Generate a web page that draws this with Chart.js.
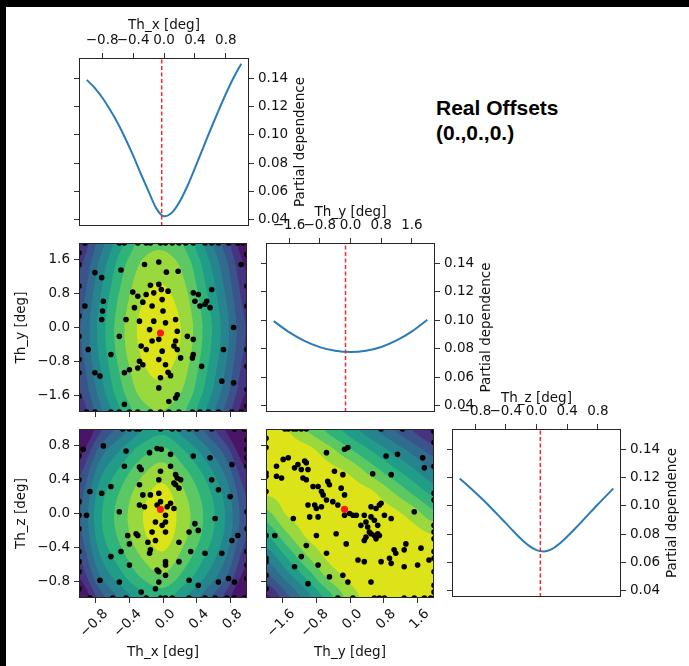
<!DOCTYPE html>
<html>
<head>
<meta charset="utf-8">
<script src="https://cdn.jsdelivr.net/npm/chart.js@4.4.1/dist/chart.umd.min.js"></script>
<style>
  body { margin: 0; background: #fff; }
  #page { position: relative; width: 689px; height: 666px; overflow: hidden; background: #fff; }
  #page canvas { position: absolute; }
  .bar { position: absolute; background: #000; }
  #note { position: absolute; left: 436px; top: 95px; font: bold 21px "Liberation Sans", Arial, sans-serif;
          line-height: 25px; color: #000; white-space: nowrap; }
</style>
</head>
<body>
<div id="page">
  <div class="bar" style="left:0;top:0;width:689px;height:7px"></div>
  <div class="bar" style="left:0;top:0;width:6px;height:666px"></div>
  <canvas id="pdx" width="260" height="219" style="left:60px;top:7px"></canvas>
  <canvas id="xy" width="245" height="182" style="left:6px;top:235px"></canvas>
  <canvas id="pdy" width="260" height="217" style="left:240px;top:195px"></canvas>
  <canvas id="xz" width="245" height="245" style="left:6px;top:421px"></canvas>
  <canvas id="yz" width="186" height="245" style="left:252px;top:421px"></canvas>
  <canvas id="pdz" width="264" height="217" style="left:425px;top:380px"></canvas>
  <div id="note">Real Offsets<br>(0.,0.,0.)</div>
</div>
<script>
// ---------- values ----------
const xzTicks = [-0.8, -0.4, 0, 0.4, 0.8];
const yTicks = [-1.6, -0.8, 0, 0.8, 1.6];
const pdTicks = [0.04, 0.06, 0.08, 0.10, 0.12, 0.14];

// best point (red marker / dashed line): Th_x, Th_y, Th_z
const best = [-0.03, -0.13, 0.05];

// partial dependence curves
const thx = [-1.0, -0.9, -0.8, -0.7, -0.6, -0.5, -0.4, -0.3, -0.2, -0.1, 0.0, 0.1, 0.2, 0.3, 0.4, 0.5, 0.6, 0.7, 0.8, 0.9, 1.0];
const pdThx = [0.139, 0.1335, 0.1265, 0.1180, 0.1085, 0.0975, 0.0855, 0.0725, 0.0600, 0.0480, 0.0424, 0.0448, 0.0525, 0.0635, 0.0765, 0.0900, 0.1035, 0.1165, 0.1290, 0.1405, 0.1505];
const thy = [-2.0, -1.6, -1.2, -0.8, -0.4, 0.0, 0.4, 0.8, 1.2, 1.6, 2.0];
const pdThy = [0.0995, 0.0917, 0.0856, 0.0812, 0.0786, 0.0777, 0.0786, 0.0813, 0.0859, 0.0923, 0.1005];
const thz = [-1.0, -0.9, -0.8, -0.7, -0.6, -0.5, -0.4, -0.3, -0.2, -0.1, 0.0, 0.1, 0.2, 0.3, 0.4, 0.5, 0.6, 0.7, 0.8, 0.9, 1.0];
const pdThz = [0.1194, 0.1147, 0.1097, 0.1045, 0.0991, 0.0935, 0.0878, 0.0821, 0.0766, 0.0719, 0.0687, 0.0678, 0.0694, 0.0733, 0.0783, 0.0838, 0.0896, 0.0954, 0.1012, 0.1068, 0.1123];

// contour level grids (band index at grid nodes, rows top -> bottom)
const nodesXZ = [-1, -0.75, -0.5, -0.25, 0, 0.25, 0.5, 0.75, 1];
const nodesY = [-2, -1.5, -1, -0.5, 0, 0.5, 1, 1.5, 2];
const rowsY = [2, 1.5, 1, 0.5, 0, -0.5, -1, -1.5, -2];
const rowsZ = [1, 0.75, 0.5, 0.25, 0, -0.25, -0.5, -0.75, -1];

const levXY = [
  [1.0, 3.5, 5.8, 7.4, 7.77, 6.9, 4.85, 2.5, 0.0],
  [1.75, 4.25, 6.55, 8.15, 8.52, 7.65, 5.6, 3.25, 0.75],
  [2.22, 4.72, 7.02, 8.62, 9.02, 8.12, 6.07, 3.72, 1.22],
  [2.63, 5.13, 7.43, 9.03, 9.4, 8.53, 6.48, 4.13, 1.63],
  [2.89, 5.39, 7.69, 9.29, 9.66, 8.79, 6.74, 4.39, 1.89],
  [2.77, 5.27, 7.57, 9.17, 9.54, 8.67, 6.62, 4.27, 1.77],
  [2.4, 4.9, 7.2, 8.8, 9.17, 8.3, 6.25, 3.9, 1.4],
  [1.95, 4.45, 6.75, 8.35, 8.72, 7.85, 5.8, 3.45, 0.95],
  [1.2, 3.7, 6.0, 7.6, 7.97, 7.1, 5.05, 2.7, 0.2]
];
const levXZ = [
  [-1.1, 1.8, 3.5, 4.95, 5.67, 4.45, 2.85, 0.9, -1.8],
  [0.45, 3.35, 5.05, 6.5, 7.22, 6.0, 4.4, 2.45, -0.25],
  [1.7, 4.6, 6.3, 7.75, 8.47, 7.25, 5.65, 3.7, 1.0],
  [2.53, 5.43, 7.13, 8.58, 9.3, 8.08, 6.48, 4.53, 1.83],
  [2.89, 5.79, 7.49, 8.94, 9.66, 8.44, 6.84, 4.89, 2.19],
  [2.73, 5.63, 7.33, 8.78, 9.5, 8.28, 6.68, 4.73, 2.03],
  [2.05, 4.95, 6.65, 8.1, 8.82, 7.6, 6.0, 4.05, 1.35],
  [1.05, 3.95, 5.65, 7.1, 7.82, 6.6, 5.0, 3.05, 0.35],
  [-0.4, 2.5, 4.2, 5.65, 6.37, 5.15, 3.55, 1.6, -1.1]
];
const levYZ = [
  [9.5, 9.05, 7.88, 6.69, 5.5, 4.31, 3.12, 1.93, 0.75],
  [9.6, 9.55, 9.3, 8.33, 7.13, 5.95, 4.79, 3.61, 2.52],
  [9.4, 9.6, 9.6, 9.35, 8.79, 7.6, 6.4, 5.25, 4.07],
  [9.15, 9.4, 9.6, 9.65, 9.5, 9.15, 8.07, 6.82, 5.69],
  [7.67, 9.1, 9.4, 9.6, 9.6, 9.55, 9.3, 8.52, 7.28],
  [6.0, 7.85, 9.2, 9.45, 9.6, 9.65, 9.6, 9.4, 9.0],
  [4.33, 6.19, 8.07, 9.25, 9.45, 9.6, 9.65, 9.6, 9.5],
  [2.67, 4.48, 6.35, 8.27, 9.25, 9.5, 9.6, 9.65, 9.6],
  [0.7, 2.73, 4.62, 6.54, 8.46, 9.4, 9.6, 9.6, 9.55]
];

// evaluated samples, projected on each pair of dimensions
const smpXY = [
  [-0.93, 2], [-0.52, 2], [-0.46, 2], [-0.30, 2], [-0.20, 2], [-0.15, 2], [-0.03, 2], [0.03, 2], [0.11, 2],
  [0.19, 2], [0.27, 2], [0.36, 2], [0.50, 2], [0.58, 2], [0.66, 2], [0.78, 2], [0.89, 2], [0.95, 2],
  [-0.22, 1.49], [-0.05, 1.55], [-0.50, 1.36], [0.04, 1.31], [0.18, 1.33], [-0.81, 1.30], [-0.73, 1.18], [0.93, 1.49],
  [-0.36, 0.84], [-0.15, 1.00], [-0.05, 1.02], [-0.30, 0.74], [-0.20, 0.78], [-0.11, 0.82], [-0.02, 0.90], [0.06, 0.86],
  [-0.01, 0.66], [-0.24, 0.60], [-0.34, 0.47], [-0.13, 0.51], [0.00, 0.39], [-0.44, 0.19], [0.36, 0.82], [0.42, 0.78],
  [0.52, 0.62], [0.50, 0.55], [0.58, 0.90], [0.38, 0.62], [0.56, 0.47], [-0.71, 0.62], [-0.72, 0.39], [-0.73, 0.19],
  [-0.93, 0.51], [0.84, 0.00], [-0.11, 0.15], [0.03, 0.11], [-0.16, -0.05], [0.17, -0.09], [0.29, -0.21], [-0.13, -0.32],
  [-0.05, -0.28], [0.15, -0.32], [0.13, -0.44], [0.17, -0.52], [-0.01, -0.56], [-0.28, -0.80], [-0.24, -0.88], [-0.30, -0.96],
  [-0.05, -0.76], [0.03, -0.88], [0.06, -1.06], [0.09, -1.14], [-0.03, -1.19], [-0.05, -1.43], [-0.46, -1.07], [-0.40, -1.00],
  [0.36, -0.64], [0.35, -0.72], [0.46, -0.92], [0.72, -0.52], [-0.89, -0.52], [-0.62, -0.64], [-0.81, -1.07], [-0.75, -1.15],
  [0.17, -1.59], [0.15, -1.67], [0.07, -1.75], [-0.46, -1.82], [0.70, -1.27], [0.84, -1.31], [0.44, 0.51], [-0.28, 0.15],
  [-0.26, -0.44], [-0.20, -0.52], [0.15, 0.19], [0.21, -0.72], [0.36, -0.28], [-0.52, -0.21],
  [-0.91, -2], [-0.81, -2], [-0.62, -2], [-0.52, -2], [-0.40, -2], [-0.30, -2], [-0.15, -2], [-0.03, -2],
  [0.07, -2], [0.19, -2], [0.35, -2], [0.44, -2], [0.54, -2], [0.66, -2], [0.82, -2], [0.93, -2],
  [-1, 1.77], [-1, 1.49], [-1, 0.98], [-1, 0.27], [-1, -0.21], [-1, -0.76], [-1, -1.07], [-1, -1.63],
  [1, 1.73], [1, 0.98], [1, 0.51], [1, -0.52], [1, -0.92], [1, -1.47], [1, -1.86]
];
const smpXZ = [
  [-0.48, 1], [-0.40, 1], [-0.32, 1], [-0.28, 1], [-0.03, 1], [0.11, 1], [0.19, 1], [0.31, 1], [0.40, 1], [0.58, 1], [0.85, 1], [0.97, 1],
  [-0.95, 0.76], [-0.71, 0.80], [-0.44, 0.74], [-0.16, 0.72], [-0.07, 0.77], [-0.02, 0.76], [0.09, 0.70], [0.36, 0.68],
  [0.56, 0.66], [0.82, 0.58], [-0.46, 0.56], [-0.28, 0.55], [-0.26, 0.52], [-0.03, 0.50], [0.09, 0.56], [0.15, 0.46],
  [0.17, 0.42], [0.13, 0.36], [0.15, 0.34], [0.21, 0.40], [0.19, 0.30], [-0.05, 0.40], [-0.28, 0.34], [-0.62, 0.32],
  [-0.73, 0.24], [-0.87, 0.26], [-0.91, -0.02], [-0.15, 0.22], [-0.05, 0.24], [-0.03, 0.14], [-0.24, 0.22], [-0.22, 0.08],
  [-0.28, 0.10], [-0.52, 0.02], [-0.07, 0.10], [0.05, 0.08], [0.09, 0.12], [0.03, -0.02], [0.13, 0.06], [-0.09, -0.10],
  [0.03, -0.10], [-0.01, -0.14], [-0.13, -0.22], [0.03, -0.22], [-0.30, -0.26], [-0.42, -0.26], [-0.32, -0.24], [-0.40, -0.36],
  [-0.18, -0.34], [-0.09, -0.32], [0.19, -0.34], [0.31, -0.22], [0.42, -0.20], [0.38, -0.12], [0.62, -0.06], [0.58, 0.40],
  [0.66, 0.28], [0.80, 0.20], [0.82, -0.32], [0.89, -0.26], [0.70, -0.47], [0.50, -0.47], [0.33, -0.45], [0.19, -0.57],
  [0.03, -0.57], [0.03, -0.61], [-0.15, -0.43], [-0.16, -0.47], [-0.07, -0.67], [-0.05, -0.69], [0.03, -0.73], [-0.05, -0.81],
  [-0.40, -0.61], [-0.62, -0.51], [-0.50, -0.45], [-0.52, -0.81], [-0.75, -0.79], [-0.26, -0.93], [-0.09, -0.89], [0.31, -0.79],
  [0.42, -0.85], [0.66, -0.81], [0.78, -0.77], [0.85, -0.81],
  [-0.87, -1], [-0.60, -1], [-0.44, -1], [-0.20, -1], [-0.03, -1], [0.03, -1], [0.11, -1], [0.31, -1], [0.50, -1],
  [0.62, -1], [0.76, -1], [0.85, -1], [0.97, -1],
  [-1, 0.68], [-1, 0.40], [-1, 0.14], [-1, -0.02], [-1, -0.18], [-1, -0.45], [-1, -0.57], [-1, -0.69], [-1, -0.89],
  [1, 0.87], [1, 0.76], [1, 0.66], [1, 0.56], [1, 0.02], [1, -0.18], [1, -0.45], [1, -0.61], [1, -0.77]
];
const smpYZ = [
  [-1.55, 1], [-1.47, 1], [-1.35, 1], [-1.28, 1], [-1.16, 1], [-1.04, 1], [0.74, 1], [1.25, 1],
  [-0.56, 0.72], [-0.13, 0.76], [-0.05, 0.78], [0.86, 0.68], [1.13, 0.70], [1.73, 0.66], [-1.47, 0.66], [-1.59, 0.64],
  [-1.08, 0.62], [-1.04, 0.60], [-1.24, 0.58], [-1.32, 0.54], [-1.16, 0.52], [-1.00, 0.52], [-1.75, 0.56], [-1.75, 0.44],
  [-1.63, 0.42], [-1.12, 0.42], [-1.04, 0.40], [-0.88, 0.32], [-0.76, 0.32], [-0.53, 0.38], [-0.49, 0.34], [-0.37, 0.50],
  [-0.17, 0.46], [0.54, 0.47], [0.98, 0.46], [-0.21, 0.30], [-0.13, 0.22], [-0.68, 0.26], [-0.64, 0.22], [-1.00, 0.10],
  [-0.84, 0.10], [-0.80, 0.06], [-0.68, 0.08], [-0.56, 0.16], [-0.41, 0.14], [-0.29, 0.10], [-0.01, 0.00], [0.07, -0.02],
  [0.15, -0.02], [-0.76, -0.04], [-0.96, -0.04], [-1.35, -0.06], [-0.13, -0.02], [0.26, -0.14], [0.38, -0.10], [0.42, -0.16],
  [0.46, -0.22], [0.50, -0.24], [0.58, -0.26], [0.66, -0.24], [0.70, -0.26], [0.62, -0.30], [0.38, -0.28], [0.34, -0.32],
  [0.50, 0.08], [0.62, 0.06], [0.70, 0.10], [0.74, 0.12], [0.82, -0.02], [0.50, -0.04], [0.66, -0.14], [0.58, -0.08],
  [0.34, -0.02], [0.98, -0.06], [1.33, -0.36], [1.29, -0.43], [1.09, -0.47], [1.05, -0.43], [0.94, -0.53], [0.98, -0.59],
  [0.74, -0.57], [1.29, -0.63], [1.61, -0.61], [0.34, -0.57], [0.19, -0.55], [-0.09, -0.36], [-0.33, -0.24], [-0.80, -0.26],
  [-1.04, -0.38], [-1.16, -0.51], [-0.56, -0.47], [-0.76, -0.61], [-0.49, -0.75], [-0.17, -0.73], [-0.05, -0.81], [0.50, -0.81],
  [1.69, -0.41], [1.88, -0.55], [1.77, 0.54], [1.53, 0.02], [-1.79, -0.26], [-1.32, -0.63], [-1.00, -0.83],
  [-0.29, -1], [0.07, -1], [0.58, -1], [0.70, -1], [0.82, -1], [1.29, -1], [1.53, -1], [1.77, -1], [1.92, -1],
  [-2, 0.89], [-2, 0.78], [-2, 0.48], [-2, 0.44], [-2, 0.26], [-2, -0.26], [-2, -0.53], [-2, -0.57], [-2, -0.73], [-2, -0.89],
  [2, 0.97], [2, 0.84], [2, 0.56], [2, 0.24], [2, 0.16], [2, -0.14], [2, -0.22], [2, -0.30], [2, -0.45], [2, -0.53],
  [2, -0.69], [2, -0.85], [2, -0.93]
];

// ---------- styling ----------
const TXT = '#111';
const TICK = '#333';
const PD_MIN = 0.0355, PD_MAX = 0.1545;
// viridis, 10 filled bands
const VIR = [[72, 21, 103], [70, 52, 128], [58, 83, 139], [47, 108, 142], [37, 132, 142],
             [32, 156, 137], [48, 179, 123], [92, 200, 99], [154, 217, 61], [220, 227, 25]];

Chart.defaults.font.family = '"DejaVu Sans", sans-serif';
Chart.defaults.font.size = 13.5;
Chart.defaults.color = TXT;
Chart.defaults.animation = false;
Chart.defaults.plugins.legend.display = false;
Chart.defaults.plugins.tooltip.enabled = false;

function fixSize(size) {
  return function (s) {
    if (s.isHorizontal()) s.height = size; else s.width = size;
    s.paddingLeft = s.paddingRight = s.paddingTop = s.paddingBottom = 0;
  };
}
function useTicks(vals) {
  return function (s) { s.ticks = vals.map(v => ({value: v})); };
}
function fmt(d) {
  return v => (v < 0 ? '\u2212' : '') + Math.abs(v).toFixed(d);
}

function axis(o) {
  return {
    type: 'linear', position: o.position, min: o.min, max: o.max,
    afterBuildTicks: useTicks(o.ticks), afterFit: fixSize(o.size),
    ticks: {display: !!o.labels, callback: fmt(o.digits || 1), autoSkip: false,
            minRotation: o.rotate || 0, maxRotation: o.rotate || 0,
            padding: o.pad || 4, labelOffset: o.shift || 0, color: TXT},
    grid: {drawOnChartArea: false, drawTicks: true, tickLength: 5, color: TICK, tickWidth: 1},
    border: {display: false},
    title: o.title ? {display: true, text: o.title, padding: o.titlePad, color: TXT} : {display: false}
  };
}

const frame = {
  id: 'frame',
  afterDatasetsDraw(chart) {
    const a = chart.chartArea, ctx = chart.ctx;
    ctx.save();
    ctx.strokeStyle = '#262626';
    ctx.lineWidth = 1;
    ctx.strokeRect(a.left + 0.5, a.top + 0.5, a.right - a.left - 1, a.bottom - a.top - 1);
    ctx.restore();
  }
};

const pdTitle = {
  id: 'pdTitle',
  afterDraw(chart) {
    const a = chart.chartArea, ctx = chart.ctx;
    ctx.save();
    ctx.translate(a.right + 51, (a.top + a.bottom) / 2);
    ctx.rotate(-Math.PI / 2);
    ctx.font = '13.5px "DejaVu Sans", sans-serif';
    ctx.fillStyle = TXT;
    ctx.textAlign = 'center';
    ctx.textBaseline = 'middle';
    ctx.fillText('Partial dependence', 0, 0);
    ctx.restore();
  }
};

// Catmull-Rom interpolation of the level grid
function cr(p0, p1, p2, p3, t) {
  return p1 + 0.5 * t * (p2 - p0 + t * (2 * p0 - 5 * p1 + 4 * p2 - p3 + t * (3 * (p1 - p2) + p3 - p0)));
}
function sampleGrid(lev, u, v) {
  const nr = lev.length, nc = lev[0].length;
  u = Math.max(0, Math.min(nc - 1, u));
  v = Math.max(0, Math.min(nr - 1, v));
  const i = Math.min(nc - 2, Math.floor(u)), j = Math.min(nr - 2, Math.floor(v));
  const tu = u - i, tv = v - j;
  const col = m => Math.max(0, Math.min(nc - 1, i + m));
  const rows = [];
  for (let k = -1; k <= 2; k++) {
    const r = lev[Math.max(0, Math.min(nr - 1, j + k))];
    rows.push(cr(r[col(-1)], r[col(0)], r[col(1)], r[col(2)], tu));
  }
  return cr(rows[0], rows[1], rows[2], rows[3], tv);
}

function contourLayer(gx, gy, lev) {
  return {
    id: 'contour',
    beforeDatasetsDraw(chart) {
      const a = chart.chartArea, sx = chart.scales.x, sy = chart.scales.y;
      const w = Math.round(a.right - a.left), h = Math.round(a.bottom - a.top);
      const off = document.createElement('canvas');
      off.width = w; off.height = h;
      const octx = off.getContext('2d');
      const img = octx.createImageData(w, h);
      const nc = gx.length, nr = gy.length;
      const sub = [0.25, 0.75];
      for (let j = 0; j < h; j++) {
        for (let i = 0; i < w; i++) {
          let r = 0, g = 0, b = 0;
          for (const oy of sub) for (const ox of sub) {
            const xv = sx.getValueForPixel(a.left + i + ox);
            const yv = sy.getValueForPixel(a.top + j + oy);
            const u = (xv - gx[0]) / (gx[nc - 1] - gx[0]) * (nc - 1);
            const v = (yv - gy[0]) / (gy[nr - 1] - gy[0]) * (nr - 1);
            const c = VIR[Math.max(0, Math.min(9, Math.floor(sampleGrid(lev, u, v))))];
            r += c[0]; g += c[1]; b += c[2];
          }
          const k = (j * w + i) * 4;
          img.data[k] = r / 4; img.data[k + 1] = g / 4; img.data[k + 2] = b / 4; img.data[k + 3] = 255;
        }
      }
      octx.putImageData(img, 0, 0);
      chart.ctx.drawImage(off, a.left, a.top);
    }
  };
}

function diagChart(id, xs, ys, mark, lim, ticks, name, L) {
  new Chart(document.getElementById(id), {
    type: 'scatter',
    data: {datasets: [
      {data: [{x: mark, y: PD_MIN}, {x: mark, y: PD_MAX}], showLine: true, borderColor: '#f02a2a',
       borderWidth: 1.5, borderDash: [4, 2.5], pointRadius: 0},
      {data: xs.map((v, i) => ({x: v, y: ys[i]})), showLine: true, borderColor: '#2b7bb9',
       borderWidth: 2, pointRadius: 0, cubicInterpolationMode: 'monotone'}
    ]},
    options: {
      responsive: false, events: [],
      layout: {padding: 0},
      scales: {
        x: axis({position: 'top', min: -lim, max: lim, ticks: ticks, size: L.top, labels: true, digits: 1,
                 title: name, titlePad: {top: L.tp, bottom: 0}}),
        y: axis({position: 'right', min: PD_MIN, max: PD_MAX, ticks: pdTicks, size: L.right, labels: true, digits: 2}),
        yl: axis({position: 'left', min: PD_MIN, max: PD_MAX, ticks: pdTicks, size: L.left})
      }
    },
    plugins: [frame, pdTitle]
  });
}

function contourChart(id, pts, bx, by, gx, gy, lev, X, Y, pad) {
  new Chart(document.getElementById(id), {
    type: 'scatter',
    data: {datasets: [
      {data: [{x: bx, y: by}], pointRadius: 3.6, backgroundColor: '#ff1a1a', borderWidth: 0, clip: 0},
      {data: pts.map(p => ({x: p[0], y: p[1]})), pointRadius: 2.8, backgroundColor: '#000', borderWidth: 0, clip: 0}
    ]},
    options: {
      responsive: false, events: [],
      layout: {padding: {top: 8, right: pad, left: 0, bottom: 0}},
      scales: {x: axis(X), y: axis(Y)}
    },
    plugins: [contourLayer(gx, gy, lev), frame]
  });
}

// ---------- diagonal: partial dependence ----------
diagChart('pdx', thx, pdThx, best[0], 1.1, xzTicks, 'Th_x [deg]', {left: 19, right: 71, top: 51, tp: 10});
diagChart('pdy', thy, pdThy, best[1], 2.2, yTicks, 'Th_y [deg]', {left: 26, right: 65, top: 48, tp: 9});
diagChart('pdz', thz, pdThz, best[2], 1.1, xzTicks, 'Th_z [deg]', {left: 27, right: 68, top: 49, tp: 10});

// ---------- lower triangle: contours + samples ----------
contourChart('xy', smpXY, best[0], best[1], nodesXZ, rowsY, levXY,
  {position: 'bottom', min: -1, max: 1, ticks: xzTicks, size: 5},
  {position: 'left', min: -2, max: 2, ticks: yTicks, size: 73, labels: true, digits: 1,
   title: 'Th_y [deg]', titlePad: {top: 7, bottom: 0}}, 2);

contourChart('xz', smpXZ, best[0], best[2], nodesXZ, rowsZ, levXZ,
  {position: 'bottom', min: -1, max: 1, ticks: xzTicks, size: 68, labels: true, digits: 1, rotate: 45,
   pad: 3, shift: 10, title: 'Th_x [deg]', titlePad: {top: 0, bottom: 5}},
  {position: 'left', min: -1, max: 1, ticks: xzTicks, size: 73, labels: true, digits: 1,
   title: 'Th_z [deg]', titlePad: {top: 7, bottom: 0}}, 2);

contourChart('yz', smpYZ, best[1], best[2], nodesY, rowsZ, levYZ,
  {position: 'bottom', min: -2, max: 2, ticks: yTicks, size: 68, labels: true, digits: 1, rotate: 45,
   pad: 3, shift: 10, title: 'Th_y [deg]', titlePad: {top: 0, bottom: 5}},
  {position: 'left', min: -1, max: 1, ticks: xzTicks, size: 14}, 3);
</script>
</body>
</html>
